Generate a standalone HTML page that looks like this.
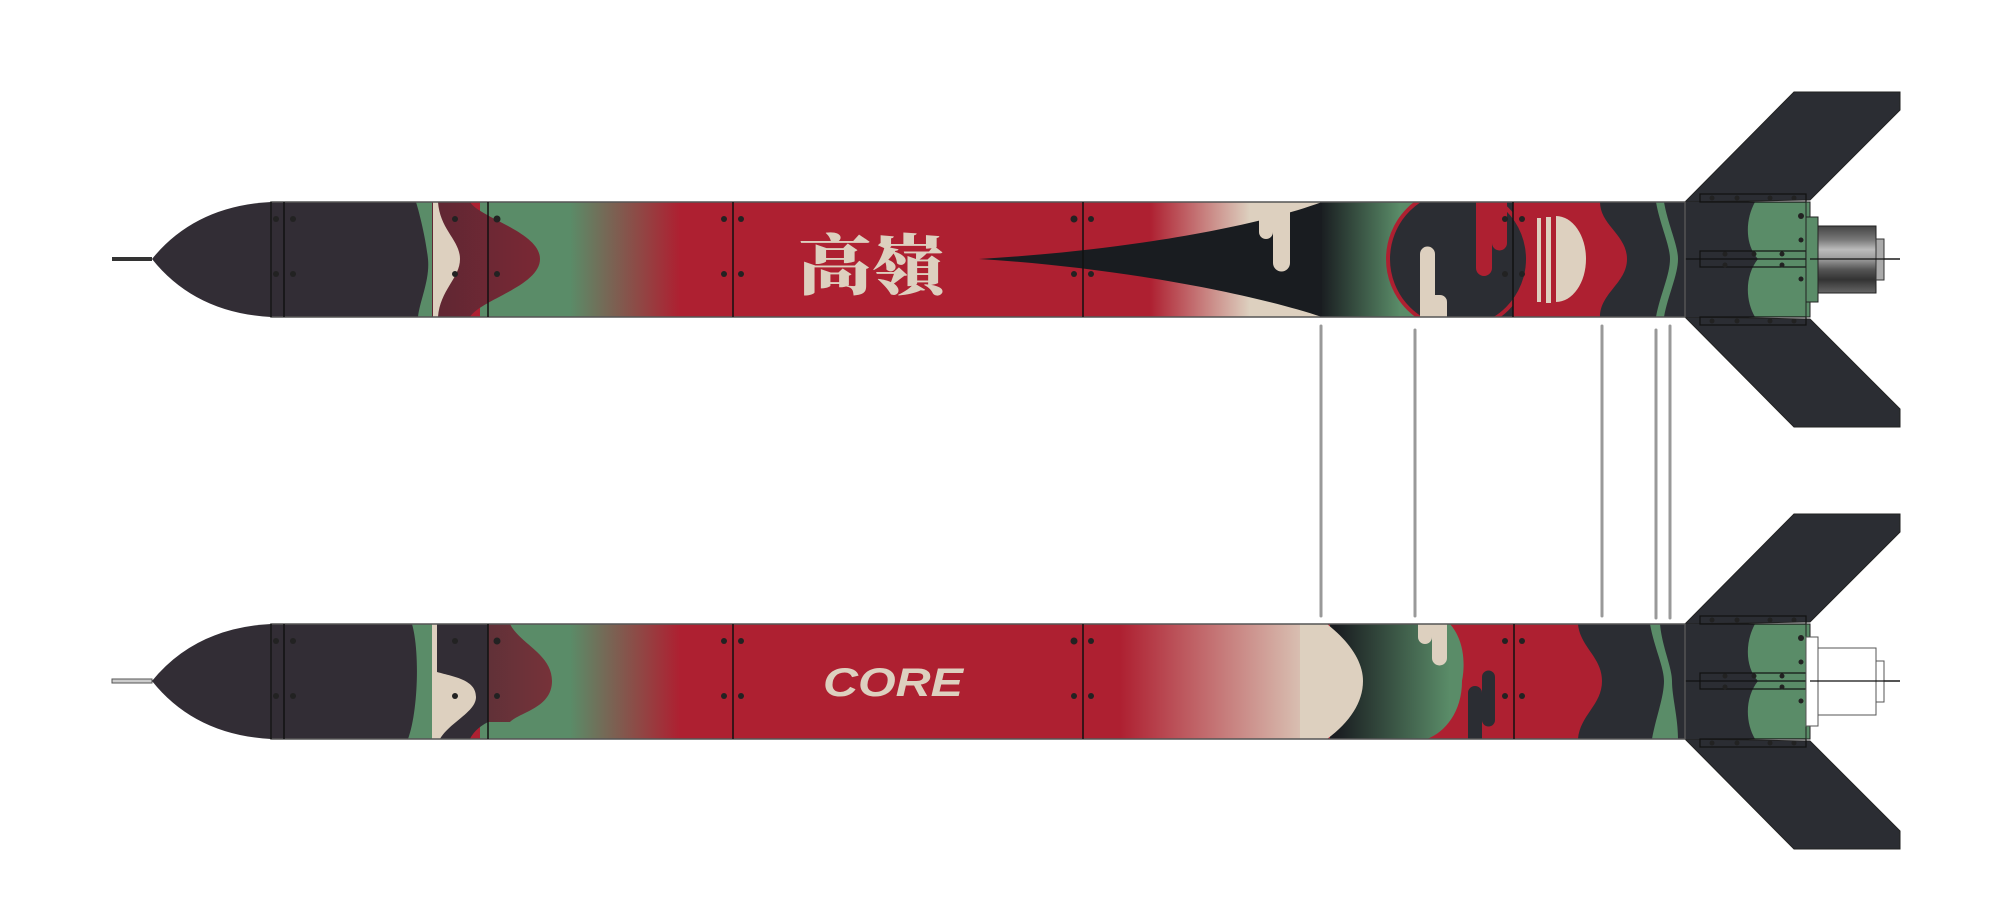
<!DOCTYPE html>
<html><head><meta charset="utf-8"><style>
html,body{margin:0;padding:0;background:#fff;}
svg{display:block;}
</style></head><body>
<svg width="2014" height="900" viewBox="0 0 2014 900" xmlns="http://www.w3.org/2000/svg">
<defs>
<linearGradient id="gr1" x1="0" x2="1"><stop offset="0" stop-color="#5a8c68"/><stop offset="0.45" stop-color="#5a8c68"/><stop offset="1" stop-color="#ae2031"/></linearGradient>
<linearGradient id="rc" x1="0" x2="1"><stop offset="0" stop-color="#ae2031"/><stop offset="1" stop-color="#ddd0bf"/></linearGradient>
<linearGradient id="dg" x1="0" x2="1"><stop offset="0" stop-color="#191c20"/><stop offset="1" stop-color="#5a8c68"/></linearGradient>
<linearGradient id="dg2" gradientUnits="userSpaceOnUse" x1="1335" x2="1450" y1="0" y2="0"><stop offset="0" stop-color="#191c20"/><stop offset="1" stop-color="#5a8c68"/></linearGradient>
<linearGradient id="mr" x1="0" x2="1"><stop offset="0" stop-color="#5e2733"/><stop offset="1" stop-color="#7a2834"/></linearGradient>
<linearGradient id="mot" x1="0" x2="0" y1="0" y2="1"><stop offset="0" stop-color="#444"/><stop offset="0.2" stop-color="#777"/><stop offset="0.35" stop-color="#bbb"/><stop offset="0.5" stop-color="#999"/><stop offset="0.65" stop-color="#555"/><stop offset="0.8" stop-color="#333"/><stop offset="1" stop-color="#666"/></linearGradient>
<clipPath id="bc"><rect x="271" y="202" width="1414" height="115"/></clipPath>
<g id="fins">
<path d="M1794,92 L1900,92 L1900,110 L1810,200 L1685,202 Z" fill="#2b2d33" stroke="#222" stroke-width="1"/>
<path d="M1794,427 L1900,427 L1900,409 L1810,319 L1685,317 Z" fill="#2b2d33" stroke="#222" stroke-width="1"/>
<rect x="1685" y="202" width="125" height="115" fill="#2b2d33"/>
<path d="M1755,202 L1808,202 L1808,317 L1755,317 C1745,300 1745,275 1758,259 C1745,245 1745,220 1755,202 Z" fill="#5a8c68"/>
<rect x="1700" y="194" width="106" height="8" fill="none" stroke="#111" stroke-width="1.2"/>
<rect x="1700" y="251" width="106" height="16" fill="none" stroke="#111" stroke-width="1.2"/>
<rect x="1700" y="317" width="106" height="8" fill="none" stroke="#111" stroke-width="1.2"/>
<g fill="#222"><circle cx="1712" cy="198" r="2.5"/><circle cx="1737" cy="198" r="2.5"/><circle cx="1770" cy="198" r="2.5"/><circle cx="1794" cy="198" r="2.5"/>
<circle cx="1712" cy="321" r="2.5"/><circle cx="1737" cy="321" r="2.5"/><circle cx="1770" cy="321" r="2.5"/><circle cx="1794" cy="321" r="2.5"/>
<circle cx="1725" cy="254" r="2.5"/><circle cx="1754" cy="254" r="2.5"/><circle cx="1782" cy="254" r="2.5"/><circle cx="1725" cy="265" r="2.5"/><circle cx="1782" cy="265" r="2.5"/>
<circle cx="1801" cy="216" r="3"/><circle cx="1801" cy="240" r="2.5"/><circle cx="1801" cy="279" r="2.5"/></g>
<rect x="1806" y="202" width="4" height="115" fill="#5a8c68" stroke="#222" stroke-width="1"/>
<line x1="1684" y1="259" x2="1900" y2="259" stroke="#111" stroke-width="1.2"/>
</g>
</defs>

<g stroke="#999" stroke-width="3" stroke-linecap="round">
<line x1="1321" y1="326" x2="1321" y2="616"/>
<line x1="1415" y1="330" x2="1415" y2="616"/>
<line x1="1602" y1="326" x2="1602" y2="616"/>
<line x1="1656" y1="330" x2="1656" y2="618"/>
<line x1="1670" y1="326" x2="1670" y2="618"/>
</g>

<!-- TOP ROCKET -->
<g>
<rect x="112" y="257" width="40" height="4" fill="#333"/>
<path d="M152,259 Q195,206 271,202 L271,317 Q195,313 152,259 Z" fill="#322d35"/>
<use href="#fins"/>
<rect x="1806" y="217" width="12" height="85" fill="#5a8c68" stroke="#222" stroke-width="1"/>
<rect x="1818" y="226" width="58" height="67" fill="url(#mot)" stroke="#222" stroke-width="1"/>
<rect x="1876" y="239" width="8" height="41" fill="#aaa" stroke="#333" stroke-width="1"/>
<line x1="1810" y1="259" x2="1900" y2="259" stroke="#111" stroke-width="1.2"/>
<g clip-path="url(#bc)">
<rect x="271" y="202" width="1414" height="115" fill="#ae2031"/>
<rect x="480" y="202" width="200" height="115" fill="url(#gr1)"/>
<path d="M430,202 L470,202 C480,218 540,232 540,259 C540,286 480,300 470,317 L430,317 Z" fill="url(#mr)"/>
<path d="M271,202 L420,202 C426,215 432,225 430,240 L430,300 C426,310 424,315 424,317 L271,317 Z" fill="#322d35"/>
<path d="M416,202 L432,202 L432,317 L418,317 C420,300 430,280 428,259 C426,240 420,215 416,202 Z" fill="#5a8c68"/>
<path d="M433,202 L438,202 C440,230 460,240 460,259 C460,278 440,290 438,317 L433,317 Z" fill="#ddd0bf"/>
<rect x="1150" y="202" width="100" height="115" fill="url(#rc)"/>
<rect x="1249" y="202" width="80" height="115" fill="#ddd0bf"/>
<rect x="1320" y="202" width="80" height="115" fill="url(#dg)"/>
<rect x="1399" y="202" width="40" height="115" fill="#5a8c68"/>
<path d="M979,259 C1100,252 1240,232 1322,202 L1322,317 C1240,290 1100,266 979,259 Z" fill="#191c20"/>
<rect x="1500" y="202" width="185" height="115" fill="#2b2d33"/>
<path d="M1476,202 L1600,202 C1600,225 1627,235 1627,259 C1627,283 1600,293 1600,317 L1513,317 L1513,202 Z" fill="#ae2031"/>
<circle cx="1458" cy="259" r="70" fill="#2b2d33" stroke="#ae2031" stroke-width="4"/>
<path d="M1476,202 L1507,202 L1507,243 a7.5,7.5 0 0 1 -15,0 L1492,268 a8,8 0 0 1 -16,0 Z" fill="#ae2031"/>
<path d="M1420,317 L1420,254 a7.5,7.5 0 0 1 15,0 L1435,295 L1440,295 a7,7 0 0 1 7,7 L1447,317 Z" fill="#ddd0bf"/>
<path d="M1259,202 L1290,202 L1290,263 a8.5,8.5 0 0 1 -17,0 L1273,232 a7,7 0 0 1 -14,0 Z" fill="#ddd0bf"/>
<rect x="1537" y="218" width="4" height="84" fill="#ddd0bf"/>
<rect x="1546" y="217" width="5" height="86" fill="#ddd0bf"/>
<path d="M1556,216 A30,43 0 0 1 1556,302 Z" fill="#ddd0bf"/>
<path d="M1656,202 L1664,202 C1668,225 1678,245 1678,259 C1678,275 1668,295 1664,317 L1656,317 C1660,295 1670,275 1670,259 C1670,245 1660,225 1656,202 Z" fill="#5a8c68"/>
</g>
<text x="798" y="289" font-family="'Noto Serif CJK SC','Liberation Serif',serif" font-size="66" font-weight="900" fill="#ddd0bf" textLength="147" lengthAdjust="spacingAndGlyphs">高嶺</text>
<rect x="271" y="202" width="1414" height="115" fill="none" stroke="#555" stroke-width="1.5"/>
<g stroke="#111" stroke-width="1.5">
<line x1="271" y1="202" x2="271" y2="317"/><line x1="284" y1="202" x2="284" y2="317"/>
<line x1="488" y1="202" x2="488" y2="317"/><line x1="733" y1="202" x2="733" y2="317"/>
<line x1="1083" y1="202" x2="1083" y2="317"/><line x1="1513" y1="202" x2="1513" y2="317"/>
</g>
<g fill="#222">
<circle cx="276" cy="219" r="3"/><circle cx="276" cy="274" r="3"/><circle cx="293" cy="219" r="3"/><circle cx="293" cy="274" r="3"/>
<circle cx="455" cy="219" r="3"/><circle cx="455" cy="274" r="3"/><circle cx="497" cy="219" r="3.5"/><circle cx="497" cy="274" r="3"/>
<circle cx="724" cy="219" r="3"/><circle cx="724" cy="274" r="3"/><circle cx="741" cy="219" r="3"/><circle cx="741" cy="274" r="3"/>
<circle cx="1074" cy="219" r="3.5"/><circle cx="1074" cy="274" r="3"/><circle cx="1091" cy="219" r="3"/><circle cx="1091" cy="274" r="3"/>
<circle cx="1505" cy="219" r="3"/><circle cx="1505" cy="274" r="3"/><circle cx="1522" cy="219" r="3"/><circle cx="1522" cy="274" r="3"/>
</g>
</g>

<!-- BOTTOM ROCKET -->
<g transform="translate(0,422)">
<rect x="112" y="257" width="40" height="4" fill="#ccc" stroke="#555" stroke-width="1"/>
<path d="M152,259 Q195,206 271,202 L271,317 Q195,313 152,259 Z" fill="#322d35"/>
<use href="#fins"/>
<rect x="1806" y="215" width="12" height="89" fill="#fff" stroke="#555" stroke-width="1"/>
<rect x="1818" y="226" width="58" height="67" fill="#fff" stroke="#555" stroke-width="1"/>
<rect x="1876" y="239" width="8" height="41" fill="#fff" stroke="#555" stroke-width="1"/>
<line x1="1810" y1="259" x2="1900" y2="259" stroke="#111" stroke-width="1.2"/>
<g clip-path="url(#bc)">
<rect x="271" y="202" width="1414" height="115" fill="#ae2031"/>
<rect x="480" y="202" width="200" height="115" fill="url(#gr1)"/>
<path d="M480,202 L510,202 C520,222 552,232 552,259 C552,286 520,290 510,300 L480,300 Z" fill="url(#mr)" opacity="0.9"/>
<path d="M271,202 L488,202 L488,300 C478,305 472,312 470,317 L271,317 Z" fill="#322d35"/>
<path d="M412,202 L434,202 L434,317 L408,317 C418,290 420,230 412,202 Z" fill="#5a8c68"/>
<path d="M432,202 L437,202 L437,250 C455,255 476,258 476,275 C476,290 450,300 440,317 L432,317 Z" fill="#ddd0bf"/>
<rect x="1120" y="202" width="200" height="115" fill="url(#rc)"/>
<path d="M1330,202 L1450,202 C1470,225 1462,259 1462,259 C1462,290 1445,310 1427,317 L1330,317 Z" fill="url(#dg2)"/>
<path d="M1300,202 L1327,202 C1350,220 1363,240 1363,259 C1363,280 1350,300 1327,317 L1300,317 Z" fill="#ddd0bf"/>
<path d="M1418,202 L1447,202 L1447,236 a7.5,7.5 0 0 1 -15,0 L1432,215 a7,7 0 0 1 -14,0 Z" fill="#ddd0bf"/>
<path d="M1468,317 L1468,271 a7,7 0 0 1 14,0 L1482,255 a6.5,6.5 0 0 1 13,0 L1495,298 a6.5,6.5 0 0 1 -13,0 L1482,317 Z" fill="#2b2d33"/>
<rect x="1578" y="202" width="107" height="115" fill="#2b2d33"/>
<path d="M1513,202 L1578,202 C1580,225 1602,235 1602,259 C1602,283 1580,293 1578,317 L1513,317 Z" fill="#ae2031"/>
<path d="M1650,202 L1660,202 C1662,225 1672,245 1672,259 C1672,275 1678,295 1678,317 L1652,317 C1656,295 1664,275 1664,259 C1664,245 1654,225 1650,202 Z" fill="#5a8c68"/>
</g>
<text x="823" y="274" font-family="'Liberation Sans',sans-serif" font-size="40" font-weight="bold" font-style="italic" fill="#ddd0bf" textLength="140" lengthAdjust="spacingAndGlyphs">CORE</text>
<rect x="271" y="202" width="1414" height="115" fill="none" stroke="#555" stroke-width="1.5"/>
<g stroke="#111" stroke-width="1.5">
<line x1="271" y1="202" x2="271" y2="317"/><line x1="284" y1="202" x2="284" y2="317"/>
<line x1="488" y1="202" x2="488" y2="317"/><line x1="733" y1="202" x2="733" y2="317"/>
<line x1="1083" y1="202" x2="1083" y2="317"/><line x1="1514" y1="202" x2="1514" y2="317"/>
</g>
<g fill="#222">
<circle cx="276" cy="219" r="3"/><circle cx="276" cy="274" r="3"/><circle cx="293" cy="219" r="3"/><circle cx="293" cy="274" r="3"/>
<circle cx="455" cy="219" r="3"/><circle cx="455" cy="274" r="3"/><circle cx="497" cy="219" r="3.5"/><circle cx="497" cy="274" r="3"/>
<circle cx="724" cy="219" r="3"/><circle cx="724" cy="274" r="3"/><circle cx="741" cy="219" r="3"/><circle cx="741" cy="274" r="3"/>
<circle cx="1074" cy="219" r="3.5"/><circle cx="1074" cy="274" r="3"/><circle cx="1091" cy="219" r="3"/><circle cx="1091" cy="274" r="3"/>
<circle cx="1505" cy="219" r="3"/><circle cx="1505" cy="274" r="3"/><circle cx="1522" cy="219" r="3"/><circle cx="1522" cy="274" r="3"/>
</g>
</g>
</svg>
</body></html>
